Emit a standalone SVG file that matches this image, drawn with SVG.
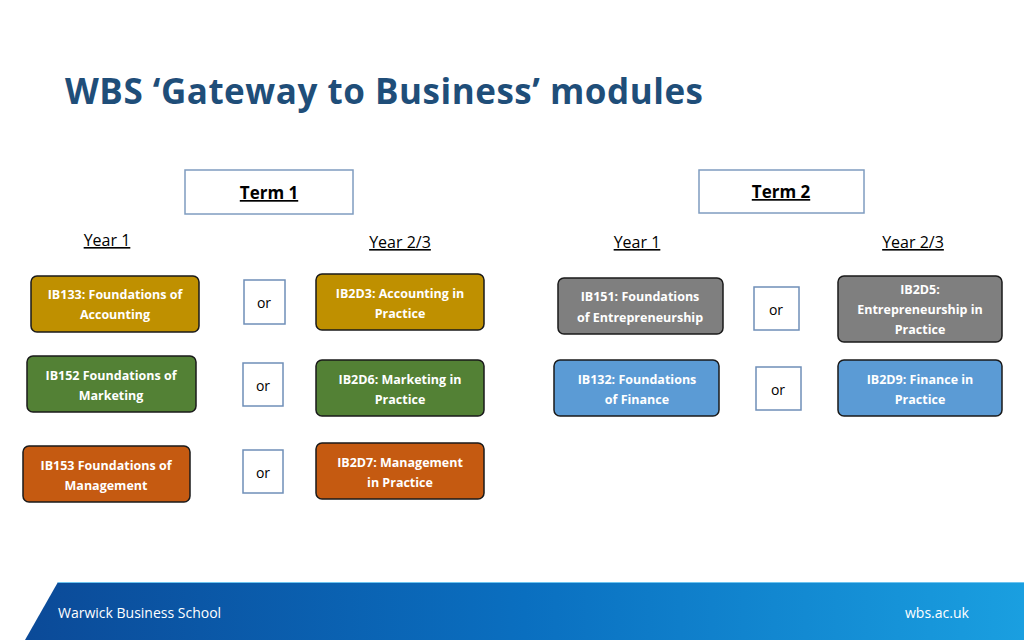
<svg xmlns="http://www.w3.org/2000/svg" width="1024" height="640" viewBox="0 0 1024 640">
<defs>
<linearGradient id="fg" x1="0" x2="1" y1="0" y2="0"><stop offset="0" stop-color="#0b4a98"/><stop offset="0.5" stop-color="#0a6fc0"/><stop offset="1" stop-color="#1a9fe0"/></linearGradient>
<style>
text{font-family:"Open Sans","Liberation Sans",sans-serif}
.m rect{stroke:#1a1a1a;stroke-width:1.5}
.m text{fill:#fff;font-size:12.5px;font-weight:bold;text-anchor:middle}
.or rect{fill:#fff;stroke:#6f8fb8;stroke-width:1.5}
.or text{font-size:14px;fill:#000;text-anchor:middle}
.t rect{fill:#fff;stroke:#7f9cc0;stroke-width:1.5}
.t text{font-size:17px;font-weight:bold;text-decoration:underline;text-anchor:middle}
.y{font-size:16px;fill:#000;text-anchor:middle;text-decoration:underline}
</style>
</defs>
<rect width="1024" height="640" fill="#fff"/>
<text x="65" y="104" font-size="35" font-weight="bold" fill="#1f4e79" textLength="638" font-family="Open Sans,sans-serif">WBS ‘Gateway to Business’ modules</text>
<g id="term1" class="t"><rect x="185" y="170" width="168" height="44"/><text x="269" y="199">Term 1</text></g>
<g id="term2" class="t"><rect x="699" y="170" width="165" height="43"/><text x="781" y="198">Term 2</text></g>
<text class="y" x="107" y="246">Year 1</text>
<text class="y" x="400" y="248">Year 2/3</text>
<text class="y" x="637" y="248">Year 1</text>
<text class="y" x="913" y="248">Year 2/3</text>
<g id="IB133" class="m"><rect x="31" y="276" width="168" height="56" rx="6" fill="#bf9000"/><text x="115" y="299">IB133: Foundations of</text><text x="115" y="319">Accounting</text></g>
<g id="IB2D3" class="m"><rect x="316" y="274" width="168" height="56" rx="6" fill="#bf9000"/><text x="400" y="298">IB2D3: Accounting in</text><text x="400" y="318">Practice</text></g>
<g id="IB152" class="m"><rect x="27" y="356" width="169" height="56" rx="6" fill="#538135"/><text x="111" y="380">IB152 Foundations of</text><text x="111" y="400">Marketing</text></g>
<g id="IB2D6" class="m"><rect x="316" y="360" width="168" height="56" rx="6" fill="#538135"/><text x="400" y="384">IB2D6: Marketing in</text><text x="400" y="404">Practice</text></g>
<g id="IB153" class="m"><rect x="23" y="446" width="167" height="56" rx="6" fill="#c55a11"/><text x="106" y="470">IB153 Foundations of</text><text x="106" y="490">Management</text></g>
<g id="IB2D7" class="m"><rect x="316" y="443" width="168" height="56" rx="6" fill="#c55a11"/><text x="400" y="467">IB2D7: Management</text><text x="400" y="487">in Practice</text></g>
<g id="IB151" class="m"><rect x="558" y="278" width="165" height="56" rx="6" fill="#7f7f7f"/><text x="640" y="301">IB151: Foundations</text><text x="640" y="322">of Entrepreneurship</text></g>
<g id="IB2D5" class="m"><rect x="838" y="276" width="164" height="66" rx="6" fill="#7f7f7f"/><text x="920" y="294">IB2D5:</text><text x="920" y="314">Entrepreneurship in</text><text x="920" y="334">Practice</text></g>
<g id="IB132" class="m"><rect x="554" y="360" width="165" height="56" rx="6" fill="#5b9bd5"/><text x="637" y="384">IB132: Foundations</text><text x="637" y="404">of Finance</text></g>
<g id="IB2D9" class="m"><rect x="838" y="360" width="164" height="56" rx="6" fill="#5b9bd5"/><text x="920" y="384">IB2D9: Finance in</text><text x="920" y="404">Practice</text></g>
<g id="connectors">
<g class="or"><rect x="244" y="280" width="41" height="44"/><text x="264" y="308">or</text></g>
<g class="or"><rect x="243" y="363" width="40" height="43"/><text x="263" y="391">or</text></g>
<g class="or"><rect x="243" y="450" width="40" height="43"/><text x="263" y="478">or</text></g>
<g class="or"><rect x="754" y="287" width="45" height="43"/><text x="776" y="315">or</text></g>
<g class="or"><rect x="756" y="367" width="45" height="43"/><text x="778" y="395">or</text></g>
</g>
<polygon points="58,582 1024,582 1024,640 25,640" fill="url(#fg)"/>
<line x1="58" y1="582.5" x2="1024" y2="582.5" stroke="#6cc4f0" stroke-width="1"/>
<text x="58" y="618" font-size="14" fill="#fff" font-family="Open Sans,sans-serif">Warwick Business School</text>
<text x="905" y="618" font-size="14" fill="#fff" font-family="Open Sans,sans-serif">wbs.ac.uk</text>
</svg>
